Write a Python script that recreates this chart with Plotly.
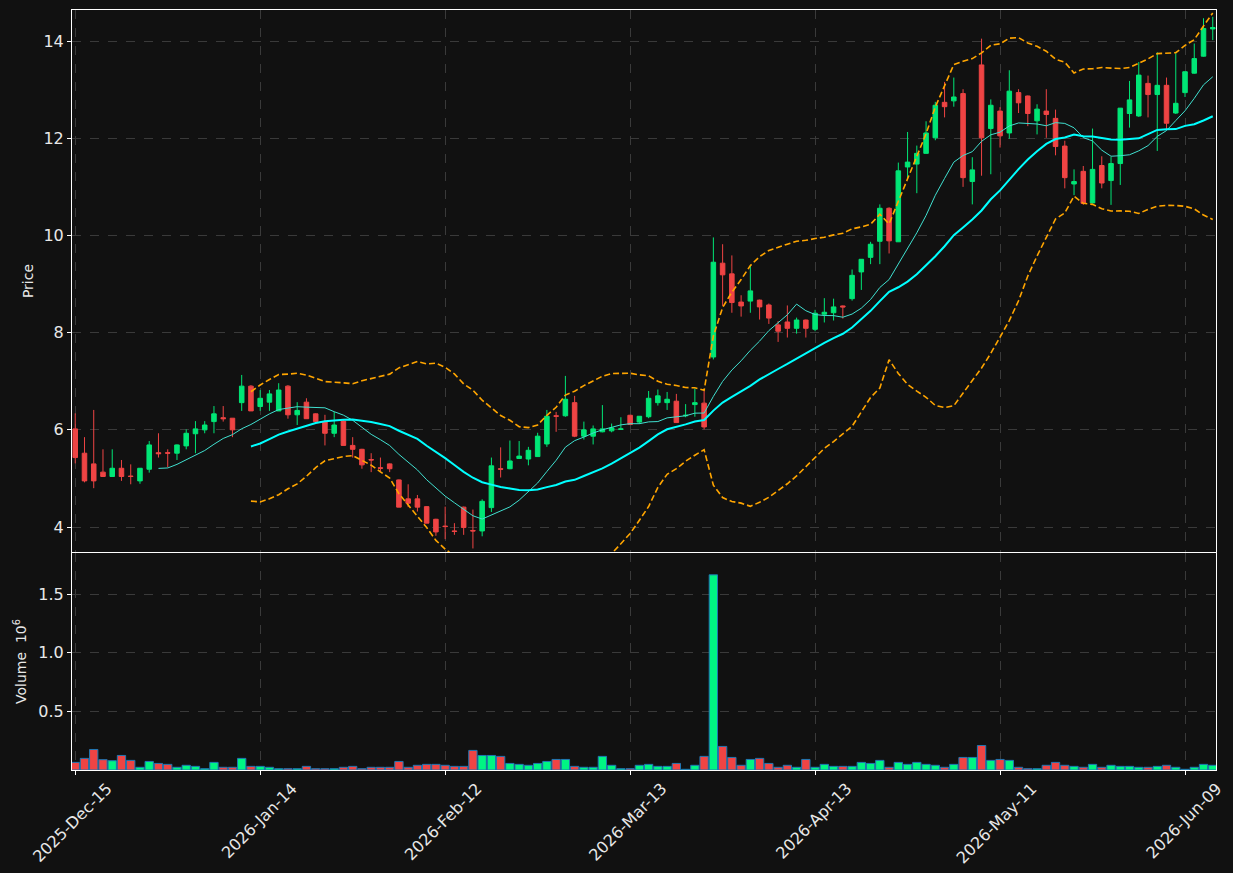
import pandas as pd
import plotly.graph_objects as go
from pandas.tseries.offsets import CustomBusinessDay

# ---- data ----
holidays = ["2025-12-25", "2026-01-01", "2026-01-19", "2026-02-16", "2026-04-03", "2026-05-25"]
dates = pd.date_range("2025-12-15", "2026-06-12", freq=CustomBusinessDay(holidays=holidays))
date_labels = [d.strftime("%Y-%m-%d") for d in dates]

open_ = [6.02, 5.52, 5.30, 5.13, 5.04, 5.21, 5.05, 4.95, 5.19, 5.53,
         5.53, 5.52, 5.67, 5.92, 6.00, 6.17, 6.25, 6.24, 6.56, 6.90,
         6.48, 6.57, 6.39, 6.90, 6.31, 6.57, 6.33, 6.17, 5.93, 6.18,
         5.68, 5.60, 5.39, 5.22, 5.30, 4.97, 4.58, 4.58, 4.42, 4.16,
         4.02, 3.92, 4.41, 3.93, 3.92, 4.40, 5.20, 5.20, 5.41, 5.40,
         5.45, 5.71, 6.29, 6.29, 6.56, 5.87, 5.87, 5.96, 5.98, 6.01,
         6.30, 6.16, 6.27, 6.56, 6.56, 6.59, 6.29, 6.52, 6.55, 7.50,
         9.43, 9.21, 8.63, 8.65, 8.67, 8.57, 8.16, 8.22, 8.09, 8.26,
         8.07, 8.38, 8.41, 8.55, 8.70, 9.25, 9.55, 9.88, 10.56, 9.87,
         11.41, 11.47, 11.69, 12.01, 12.74, 12.77, 12.92, 11.11, 13.51, 12.20,
         12.56, 12.11, 12.94, 12.87, 12.36, 12.56, 12.41, 11.84, 11.06, 11.32,
         10.67, 11.44, 11.13, 11.48, 12.51, 12.46, 13.13, 12.90, 13.09, 12.52,
         12.94, 13.34, 13.69, 14.25]
high = [6.34, 5.85, 6.41, 5.60, 5.60, 5.38, 5.29, 5.21, 5.77, 5.93,
        5.60, 5.70, 6.01, 6.18, 6.18, 6.49, 6.49, 6.24, 7.13, 6.92,
        6.82, 6.82, 6.96, 6.92, 6.57, 6.65, 6.34, 6.31, 6.37, 6.20,
        5.85, 5.61, 5.52, 5.43, 5.31, 4.98, 4.88, 4.66, 4.43, 4.17,
        4.42, 4.08, 4.42, 4.36, 4.57, 5.43, 5.64, 5.78, 5.77, 5.65,
        5.94, 6.41, 6.37, 7.11, 6.70, 6.17, 6.09, 6.51, 6.13, 6.26,
        6.31, 6.28, 6.80, 6.83, 6.78, 6.74, 6.53, 6.85, 6.80, 9.96,
        9.82, 9.59, 8.77, 9.37, 8.68, 8.60, 8.24, 8.56, 8.31, 8.27,
        8.47, 8.71, 8.70, 8.56, 9.30, 9.51, 9.87, 10.64, 10.58, 11.50,
        12.13, 11.85, 12.35, 12.75, 13.16, 13.25, 13.01, 11.61, 14.05, 12.80,
        12.64, 13.40, 13.01, 12.88, 12.70, 13.01, 12.59, 11.95, 11.36, 11.43,
        12.20, 11.63, 11.62, 12.62, 13.18, 13.57, 13.29, 13.77, 13.25, 13.75,
        13.37, 13.95, 14.47, 14.50]
low = [5.31, 4.92, 4.80, 5.03, 5.03, 4.95, 4.88, 4.89, 5.12, 5.43,
       5.23, 5.38, 5.60, 5.52, 5.93, 5.93, 6.17, 5.85, 6.39, 6.39,
       6.39, 6.39, 6.39, 6.23, 6.10, 6.23, 6.16, 5.68, 5.85, 5.68,
       5.43, 5.20, 5.13, 5.14, 5.13, 4.41, 4.41, 4.32, 4.08, 3.82,
       3.75, 3.84, 3.84, 3.56, 3.81, 4.31, 5.02, 5.19, 5.40, 5.27,
       5.45, 5.65, 5.96, 6.27, 5.85, 5.80, 5.70, 5.95, 5.95, 6.00,
       6.10, 6.12, 6.24, 6.50, 6.41, 6.15, 6.26, 6.27, 6.01, 7.45,
       8.55, 8.41, 8.33, 8.41, 8.27, 8.18, 7.81, 7.90, 7.98, 7.90,
       8.03, 8.21, 8.25, 8.29, 8.66, 8.88, 9.41, 9.41, 9.63, 9.87,
       11.17, 10.87, 11.69, 11.96, 12.43, 12.65, 11.00, 10.64, 11.23, 11.26,
       11.81, 11.99, 12.52, 12.25, 12.08, 12.01, 11.65, 10.97, 10.83, 10.63,
       10.66, 10.97, 10.63, 11.04, 12.22, 12.44, 12.43, 11.74, 12.17, 12.50,
       12.85, 13.33, 13.68, 14.02]
close = [5.43, 4.95, 4.95, 5.04, 5.21, 5.04, 5.04, 5.21, 5.69, 5.51,
         5.52, 5.69, 5.93, 6.02, 6.10, 6.33, 6.23, 6.00, 6.90, 6.39,
         6.65, 6.74, 6.82, 6.31, 6.40, 6.23, 6.17, 5.93, 6.10, 5.68,
         5.60, 5.28, 5.38, 5.21, 5.20, 4.41, 4.49, 4.41, 4.08, 3.90,
         4.01, 3.91, 3.99, 3.92, 4.53, 5.26, 5.19, 5.36, 5.46, 5.58,
         5.87, 6.28, 6.28, 6.63, 5.87, 6.00, 6.02, 6.02, 6.04, 6.02,
         6.11, 6.28, 6.65, 6.70, 6.63, 6.15, 6.30, 6.56, 6.06, 9.45,
         9.19, 8.62, 8.55, 8.86, 8.53, 8.30, 8.03, 8.09, 8.26, 8.09,
         8.40, 8.42, 8.53, 8.53, 9.18, 9.51, 9.82, 10.56, 9.89, 11.33,
         11.51, 11.69, 12.11, 12.68, 12.65, 12.85, 11.19, 11.35, 12.01, 12.68,
         12.05, 12.97, 12.73, 12.51, 12.60, 12.49, 11.83, 11.19, 11.11, 10.66,
         11.36, 11.08, 11.48, 12.62, 12.79, 13.30, 12.90, 13.09, 12.31, 12.72,
         13.37, 13.64, 14.26, 14.28]
volume_m = [0.065, 0.099, 0.175, 0.088, 0.079, 0.124, 0.082, 0.023, 0.073, 0.056,
            0.048, 0.023, 0.040, 0.031, 0.011, 0.065, 0.023, 0.023, 0.099, 0.031,
            0.031, 0.023, 0.011, 0.011, 0.011, 0.031, 0.011, 0.011, 0.011, 0.023,
            0.031, 0.011, 0.023, 0.023, 0.023, 0.073, 0.023, 0.040, 0.048, 0.048,
            0.040, 0.031, 0.031, 0.167, 0.124, 0.124, 0.116, 0.056, 0.048, 0.040,
            0.056, 0.073, 0.090, 0.090, 0.031, 0.023, 0.023, 0.116, 0.040, 0.011,
            0.011, 0.040, 0.048, 0.031, 0.031, 0.056, 0.006, 0.040, 0.116, 1.664,
            0.201, 0.107, 0.040, 0.090, 0.099, 0.056, 0.023, 0.040, 0.023, 0.090,
            0.023, 0.048, 0.031, 0.031, 0.031, 0.065, 0.056, 0.082, 0.023, 0.065,
            0.048, 0.065, 0.048, 0.040, 0.023, 0.048, 0.107, 0.107, 0.209, 0.082,
            0.090, 0.082, 0.023, 0.011, 0.011, 0.040, 0.065, 0.040, 0.031, 0.023,
            0.048, 0.023, 0.040, 0.031, 0.031, 0.023, 0.023, 0.031, 0.040, 0.023,
            0.006, 0.023, 0.048, 0.040]

tick_idx = [0, 20, 40, 60, 80, 100, 120]
tick_vals = [date_labels[i] for i in tick_idx]
tick_text = [dates[i].strftime("%Y-%b-%d") for i in tick_idx]

UP = "#00e676"
DOWN = "#ef4444"
VOL_UP = "#00f583"
BG = "#111111"
GRID = "#3a3a3a"
FG = "#e8e8e8"

cs = pd.Series(close)
ma10 = cs.rolling(10).mean()
ma20 = cs.rolling(20).mean()
sd20 = cs.rolling(20).std()
bb_up = ma20 + 2 * sd20
bb_lo = ma20 - 2 * sd20

vol_colors = [VOL_UP if c >= o else DOWN for o, c in zip(open_, close)]

fig = go.Figure()
fig.add_trace(go.Candlestick(
    x=date_labels, open=open_, high=high, low=low, close=close,
    increasing=dict(line=dict(color=UP, width=1), fillcolor=UP),
    decreasing=dict(line=dict(color=DOWN, width=1), fillcolor=DOWN),
    whiskerwidth=0, xaxis="x", yaxis="y", showlegend=False,
))
fig.add_trace(go.Scatter(x=date_labels, y=ma10, mode="lines",
                         line=dict(color="#40e0d0", width=1), xaxis="x", yaxis="y", showlegend=False))
fig.add_trace(go.Scatter(x=date_labels, y=ma20, mode="lines",
                         line=dict(color="#00ffff", width=2), xaxis="x", yaxis="y", showlegend=False))
fig.add_trace(go.Scatter(x=date_labels, y=bb_up, mode="lines",
                         line=dict(color="#ffa500", width=1.6, dash="6px,3px"), xaxis="x", yaxis="y", showlegend=False))
fig.add_trace(go.Scatter(x=date_labels, y=bb_lo, mode="lines",
                         line=dict(color="#ffa500", width=1.6, dash="6px,3px"), xaxis="x", yaxis="y", showlegend=False))
fig.add_trace(go.Bar(x=date_labels, y=volume_m, marker=dict(color=vol_colors, line=dict(color="#1f77b4", width=1)),
                     width=0.9, xaxis="x2", yaxis="y2", showlegend=False))

axis_common = dict(showline=True, linecolor="#ffffff", linewidth=1, mirror=True,
                   gridcolor=GRID, griddash="dash", gridwidth=1, zeroline=False,
                   tickcolor="#ffffff", ticklen=4, automargin=False,
                   tickfont=dict(color=FG, size=16, family="DejaVu Sans"))

xr = [-0.35, len(date_labels) - 1 + 0.35]
fig.update_layout(
    width=1233, height=873,
    paper_bgcolor=BG, plot_bgcolor=BG,
    margin=dict(l=72, r=17, t=10, b=103),
    font=dict(family="DejaVu Sans", color=FG, size=14),
    xaxis=dict(type="category", domain=[0, 1], anchor="y", range=xr, matches="x2",
               tickvals=tick_vals, ticktext=[""] * len(tick_vals), rangeslider=dict(visible=False),
               ticks="", **axis_common),
    yaxis=dict(domain=[0.2868, 1], anchor="x", range=[3.486, 14.64],
               tickvals=[4, 6, 8, 10, 12, 14], ticks="outside",
               title=dict(text="Price", font=dict(size=14, color=FG), standoff=6), **axis_common),
    xaxis2=dict(type="category", domain=[0, 1], anchor="y2", range=xr,
                tickvals=tick_vals, ticktext=tick_text, tickangle=-45, ticks="outside",
                ticklabelshift=32, ticklabelstandoff=-2, **axis_common),
    yaxis2=dict(domain=[0, 0.2855], anchor="x2", range=[0, 1.85],
                tickvals=[0.5, 1.0, 1.5], ticktext=["0.5", "1.0", "1.5"], ticks="outside",
                title=dict(text="Volume  10<sup>6</sup>", font=dict(size=14, color=FG), standoff=8), **axis_common),
    bargap=0.1,
)

fig.write_html("out.html")
